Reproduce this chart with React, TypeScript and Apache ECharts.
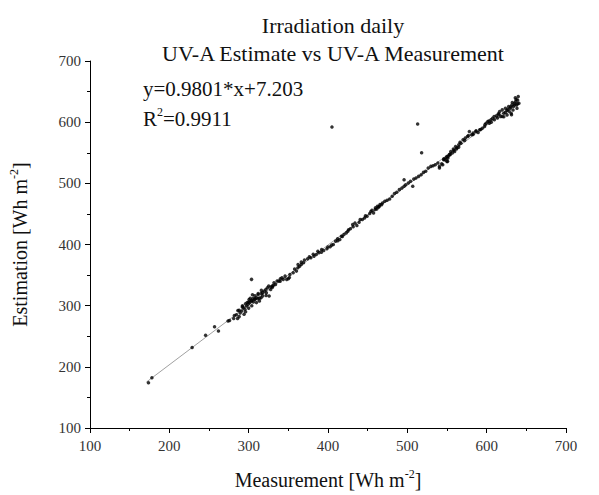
import React, { useEffect, useRef } from "react";
import * as echarts from "echarts";

const titleLine1 = "Irradiation daily";
const titleLine2 = "UV-A Estimate vs UV-A Measurement";
const equationText = "y=0.9801*x+7.203";
const r2Value = "0.9911";

const xTicks = { min: 100, max: 700, interval: 100 };
const yTicks = { min: 100, max: 700, interval: 100 };

const measurement = [
  173.7, 178, 228.7, 245.7, 257, 261.9, 303.6,
  274, 282, 286, 288, 292, 296, 300, 304, 308, 312, 316, 322, 328, 331,
  275.9, 281.1, 288, 291.3, 293.3, 295.3, 297.3, 299.3, 301.3, 303.4, 305.4, 307.5, 309.5, 311.5, 313.6, 315.6,
  317.6, 319.7, 321.6, 323.6, 325.8, 327.7, 329.7, 331.9, 333.8, 335.8, 337.9, 339.9, 341.9, 345.9, 347.9, 350,
  352, 356.1, 360.2, 364.2, 366.3, 369.1,
  289.3, 292.2, 296.1, 298.1, 300, 302, 303.9, 305.9, 307.9, 309.8, 311.8, 313.7, 315.7, 317.6, 294.2, 300.5,
  284.5, 286.4, 304.8, 322.3, 325.2, 330, 339.7, 343.6, 351.3, 357.9, 362,
  362.2, 366.3, 370.3, 374.3, 378.4, 382.4, 385.2, 388.5, 391.7, 394.6, 398.6, 402.7, 406.7, 409.6, 412.1, 414.9,
  416.9, 420.1, 423, 425, 428.2, 431.1, 434, 436.4, 439.2, 443.3, 446.1, 449.3, 452.6, 455.4, 457.4, 461.5, 464.7, 467.6,
  376.5, 381.4, 387.2, 392, 399.8, 404.6, 412.3, 418.1, 425.9, 431.7, 440.5, 447.2, 454, 459.8, 463.7,
  405, 513, 518,
  459.4, 462.3, 465.5, 468.7, 471.6, 474.5, 477.7, 480.9, 483.8, 486.6, 489.9, 493.1, 495.9, 495.9, 497.9, 501.2,
  504, 506.8, 508.1, 510.9, 514.2, 517.4, 520.3, 523.1, 526.3, 529.6, 532.4, 535.2, 538.5, 540.5, 543.3, 545.8,
  548.6, 551.5, 553.9, 556.7, 559.6, 562, 564.8, 549.8, 540.5,
  544.6, 547.4, 549.8, 552.7, 550.7, 554.8, 558, 560.8, 564.8, 567.6, 570.2, 573, 575.8, 578.2, 581, 583,
  586.3, 589.2, 591.2, 594.5, 597.3, 599.3, 601.4, 603.4, 605.4, 607.4, 609.4, 612.3, 614.7, 616.3, 617.5, 619.6,
  621.6, 623.6, 625.7, 627.7, 629.7, 631.7, 633.7, 635, 636.6, 637.8, 639, 639.8, 640.7, 638.2, 630.9, 625.7, 619.6,
  630.3, 632.3, 635.2, 637.1, 633.2, 628.4, 636.1, 639, 631.3, 623.6, 626.5, 621.6, 615.5, 613.6, 609.7, 605.8,
  602.9, 597.9, 592.5, 586.7, 582.8, 577, 572.2, 566.4, 562.5, 558.6, 553.8, 550.9, 546,
];

const estimation = [
  174, 182, 231.7, 251.6, 265.6, 258.6, 343,
  275, 284, 279, 292.5, 298, 303, 306, 308.6, 311, 320, 325, 316.7, 330.6, 333,
  275.6, 278.9, 282.1, 291.3, 296.8, 294, 299.4, 302.2, 305, 307.6, 311.5, 310.3, 313.1, 311.5, 307.6, 313.1,
  321.3, 323.9, 326.6, 329.4, 315.7, 326.6, 332, 337.6, 334.8, 340.2, 340.2, 344.1, 345.7, 348.3, 343, 344.1,
  351.1, 353.9, 356.5, 364.6, 367.4, 370.2,
  288, 300, 290, 305, 296, 312, 300, 306, 316, 305, 318, 312, 320, 316, 286, 310,
  285, 292, 318, 321, 332, 330, 340, 343, 346, 360, 362,
  367.4, 371.2, 374.5, 376.7, 378.3, 381, 383.7, 386.4, 387.5, 390.2, 393, 396.2, 400, 405.5, 409.3, 408.2,
  413.6, 416.3, 419, 421.8, 425.6, 432.6, 435.3, 431, 436.4, 440.8, 443.5, 446.2, 450.6, 456, 451.7, 458.2, 462.5, 465.2,
  380, 384, 389, 392, 396, 399, 406, 413, 424, 429, 441, 447, 454, 460, 461,
  592, 597, 550,
  457.1, 462.5, 465.2, 467.9, 470.6, 472.3, 474.5, 478.8, 483.2, 485.3, 489.7, 492.4, 506, 495.1, 497.8, 500.5,
  503.3, 495.1, 507.1, 508.7, 511.4, 514.1, 517.9, 519.6, 525, 527.7, 528.8, 530.4, 533.2, 527.7, 532.1, 538.6,
  541.3, 544, 546.7, 549.5, 552.2, 556, 559.2, 535.9, 525,
  530.4, 538.6, 544, 546.7, 535.9, 552.2, 556, 560.3, 563, 565.7, 571.2, 573.9, 576.6, 584.8, 579.3, 582.1,
  584.8, 583.1, 587.5, 590.2, 592.9, 598.3, 601.1, 598.3, 603.8, 606.5, 609.2, 610.3, 613.6, 617.4, 609.2, 620.1,
  614.7, 622.8, 619, 625.5, 622.8, 628.2, 625.5, 631, 633.7, 628.2, 636.4, 641.8, 631, 622.8, 614.7, 611.9, 609.2,
  625, 632, 628, 637, 620, 618, 640, 630, 612, 616, 621, 609, 613, 607, 604, 600,
  602, 596, 588, 586, 580, 578, 570, 567, 558, 554, 548, 541, 540,
];

const fitX = [171, 641];
const fitY = [175, 635];

const FONT = "'Liberation Serif', 'Times New Roman', serif";

export default function App() {
  const ref = useRef<HTMLDivElement>(null);
  useEffect(() => {
    document.body.style.margin = "0";
    if (!ref.current) return;
    const chart = echarts.init(ref.current, undefined, { renderer: "svg" });
    const points = measurement.map((x, i) => [x, estimation[i]]);
    const fit = fitX.map((x, i) => [x, fitY[i]]);
    const axisCommon = {
      type: "value" as const,
      axisLine: { show: true, lineStyle: { color: "#000", width: 1 } },
      axisTick: { show: true, inside: false, length: 5, lineStyle: { color: "#000" } },
      minorTick: { show: true, splitNumber: 2, length: 3, lineStyle: { color: "#000" } },
      splitLine: { show: false },
      nameLocation: "middle" as const,
      nameTextStyle: {
        fontFamily: FONT,
        fontSize: 20,
        color: "#111",
        rich: {
          n: { fontFamily: FONT, fontSize: 20, color: "#111", lineHeight: 24 },
          s: { fontFamily: FONT, fontSize: 12, color: "#111", lineHeight: 24, verticalAlign: "top", padding: [0, 0, 10, 0] },
        },
      },
    };
    chart.setOption({
      animation: false,
      backgroundColor: "#fff",
      title: [
        {
          text: titleLine1,
          left: 328,
          top: 9,
          textAlign: "center",
          textStyle: { fontFamily: FONT, fontSize: 22, fontWeight: "normal", color: "#111" },
        },
        {
          text: titleLine2,
          left: 328,
          top: 37,
          textAlign: "center",
          textStyle: { fontFamily: FONT, fontSize: 22, fontWeight: "normal", color: "#111" },
        },
      ],
      grid: { left: 88, right: 33, top: 61, bottom: 66, containLabel: false },
      xAxis: {
        ...axisCommon,
        min: xTicks.min,
        max: xTicks.max,
        interval: xTicks.interval,
        name: "{n|Measurement [Wh m}{s|-2}{n|]}",
        nameGap: 40,
        axisLabel: { fontFamily: FONT, fontSize: 15, color: "#333", margin: 10 },
      },
      yAxis: {
        ...axisCommon,
        min: yTicks.min,
        max: yTicks.max,
        interval: yTicks.interval,
        name: "{n|Estimation [Wh m}{s|-2}{n|]}",
        nameGap: 58,
        nameRotate: 90,
        axisLabel: { fontFamily: FONT, fontSize: 15, color: "#333", margin: 9 },
      },
      graphic: [
        {
          type: "text",
          left: 143,
          top: 78,
          style: { text: equationText, fontFamily: FONT, fontSize: 21, fill: "#111" },
        },
        {
          type: "text",
          left: 143,
          top: 106,
          style: {
            text: "{n|R}{s|2}{n|=" + r2Value + "}",
            rich: {
              n: { fontFamily: FONT, fontSize: 21, fill: "#111", lineHeight: 26 },
              s: { fontFamily: FONT, fontSize: 12, fill: "#111", lineHeight: 26, verticalAlign: "top", padding: [0, 0, 10, 0] },
            },
          },
        },
      ],
      series: [
        {
          type: "line",
          data: fit,
          symbol: "none",
          lineStyle: { color: "#888", width: 0.8 },
          z: 1,
        },
        {
          type: "scatter",
          data: points,
          symbol: "circle",
          symbolSize: 3.5,
          itemStyle: { color: "#000" },
          z: 2,
        },
      ],
    });
    return () => chart.dispose();
  }, []);
  return <div ref={ref} style={{ width: 599, height: 495 }} />;
}
